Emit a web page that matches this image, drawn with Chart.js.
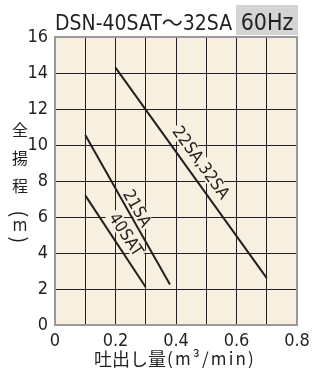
<!DOCTYPE html>
<html><head><meta charset="utf-8">
<script src="https://cdn.jsdelivr.net/npm/chart.js@4/dist/chart.umd.min.js"></script>
<style>html,body{margin:0;padding:0;background:#fff;overflow:hidden}#wrap{width:323px;height:371px}</style>
</head><body><div id="wrap"><canvas id="c" width="323" height="371"></canvas></div>
<script>
// ---- data ----
const titleText = "DSN-40SAT～32SA";
const freqText = "60Hz";
const xTitleMain = "吐出し量";
const xTitleUnit = "(m³/min)";
const yTitleChars = ["全", "揚", "程", "(", "m", ")"];
const seriesNames = ["22SA,32SA", "21SA", "40SAT"];
const flow22 = [0.2, 0.7];
const head22 = [14.3, 2.6];
const flow21 = [0.1, 0.38];
const head21 = [10.55, 2.25];
const flow40 = [0.1, 0.3];
const head40 = [7.2, 2.1];
const xTickLabels = ["0", "0.2", "0.4", "0.6", "0.8"];
const yTickLabels = ["0", "2", "4", "6", "8", "10", "12", "14", "16"];

// ---- styling ----
const NARROW = '"Liberation Sans Narrow", "DejaVu Sans Condensed", "Noto Sans CJK JP", sans-serif';
const CJK = '"Noto Sans CJK JP", sans-serif';
const PLOT_BG = '#f7f0e1';
const INK = '#231f20';
const labelStyle = [
  {t: 0.49, d: 14, size: 17},
  {t: 0.52, d: 9, size: 17},
  {t: 0.50, d: 12.5, size: 17}
];

const pts = (xs, ys) => xs.map((x, i) => ({x: x, y: ys[i]}));
const flows = [flow22, flow21, flow40];
const heads = [head22, head21, head40];

const decorPlugin = {
  id: 'decor',
  beforeDraw(chart) {
    const ctx = chart.ctx, a = chart.chartArea;
    ctx.save();
    ctx.fillStyle = '#fff';
    ctx.fillRect(0, 0, chart.width, chart.height);
    ctx.fillStyle = PLOT_BG;
    ctx.fillRect(a.left, a.top, a.right - a.left, a.bottom - a.top);
    ctx.fillStyle = INK;
    ctx.textBaseline = 'alphabetic';
    ctx.textAlign = 'left';
    ctx.font = '21px ' + NARROW;
    ctx.fillText(titleText, a.left, 30);
    ctx.fillStyle = '#d4d4d4';
    ctx.fillRect(236, 5, a.right + 1 - 236, 30);
    ctx.fillStyle = INK;
    ctx.textAlign = 'center';
    ctx.font = '23px ' + NARROW;
    ctx.fillText(freqText, (236 + a.right) / 2 + 0.5, 30);
    ctx.restore();
  },
  beforeDatasetsDraw(chart) {
    const ctx = chart.ctx, a = chart.chartArea;
    ctx.save();
    ctx.strokeStyle = '#9a9a9a';
    ctx.lineWidth = 2;
    ctx.strokeRect(a.left, a.top, a.right - a.left, a.bottom - a.top);
    ctx.restore();
  },
  afterDatasetsDraw(chart) {
    const ctx = chart.ctx;
    chart.data.datasets.forEach((ds, i) => {
      const meta = chart.getDatasetMeta(i);
      const p0 = meta.data[0], p1 = meta.data[meta.data.length - 1];
      const ang = Math.atan2(p1.y - p0.y, p1.x - p0.x);
      const st = labelStyle[i];
      const cx = p0.x + st.t * (p1.x - p0.x) + Math.sin(ang) * st.d;
      const cy = p0.y + st.t * (p1.y - p0.y) - Math.cos(ang) * st.d;
      ctx.save();
      ctx.translate(cx, cy);
      ctx.rotate(ang);
      ctx.font = st.size + 'px ' + NARROW;
      const w = ctx.measureText(ds.label).width;
      ctx.fillStyle = PLOT_BG;
      ctx.fillRect(-w / 2 - 2, -st.size * 0.45, w + 4, st.size * 0.9);
      ctx.fillStyle = INK;
      ctx.textAlign = 'center';
      ctx.textBaseline = 'middle';
      ctx.fillText(ds.label, 0, 1);
      ctx.restore();
    });
  },
  afterDraw(chart) {
    const ctx = chart.ctx;
    ctx.save();
    ctx.fillStyle = INK;
    ctx.textAlign = 'left';
    ctx.textBaseline = 'middle';
    ctx.font = '18px ' + CJK;
    ctx.fillText(xTitleMain, 94, 359);
    ctx.font = '17px ' + CJK;
    const uw = ctx.measureText(xTitleUnit).width;
    const sp = Math.max(0, (89 - uw) / xTitleUnit.length);
    ctx.letterSpacing = sp + 'px';
    ctx.fillText(xTitleUnit, 167, 359);
    ctx.letterSpacing = '0px';
    const ys = [130, 157.5, 185.5, 214, 227, 240];
    yTitleChars.forEach((ch, i) => {
      ctx.save();
      ctx.translate(20, ys[i]);
      if (ch === '(' || ch === ')') {
        ctx.rotate(Math.PI / 2);
        ctx.font = '20px ' + CJK;
      } else if (ch === 'm') {
        ctx.font = '17px ' + NARROW;
      } else {
        ctx.font = '16px ' + CJK;
      }
      ctx.textAlign = 'center';
      ctx.textBaseline = 'middle';
      ctx.fillText(ch, 0, 0);
      ctx.restore();
    });
    ctx.restore();
  }
};

new Chart(document.getElementById('c'), {
  type: 'scatter',
  data: {
    datasets: seriesNames.map((name, i) => ({
      label: name,
      data: pts(flows[i], heads[i]),
      showLine: true,
      borderColor: INK,
      borderWidth: 2,
      pointRadius: 0,
      fill: false
    }))
  },
  options: {
    responsive: false,
    devicePixelRatio: 1,
    animation: false,
    layout: {padding: {left: 0, top: 37, right: 26, bottom: 0}},
    plugins: {legend: {display: false}, tooltip: {enabled: false}},
    scales: {
      x: {
        type: 'linear', min: 0, max: 0.8,
        afterFit(s) { s.height = 46; },
        border: {display: false},
        grid: {color: INK, lineWidth: 1, drawTicks: false},
        ticks: {
          stepSize: 0.1, padding: 6, color: INK, maxRotation: 0, autoSkip: false,
          font: {family: NARROW, size: 18},
          callback: (v) => {
            const k = Math.round(v * 10);
            return k % 2 === 0 ? xTickLabels[k / 2] : '';
          }
        }
      },
      y: {
        type: 'linear', min: 0, max: 16,
        afterFit(s) { s.width = 55; },
        border: {display: false},
        grid: {color: INK, lineWidth: 1, drawTicks: false},
        ticks: {
          stepSize: 2, padding: 7, color: INK,
          font: {family: NARROW, size: 18},
          callback: (v) => yTickLabels[Math.round(v / 2)]
        }
      }
    }
  },
  plugins: [decorPlugin]
});
</script>
</body></html>
